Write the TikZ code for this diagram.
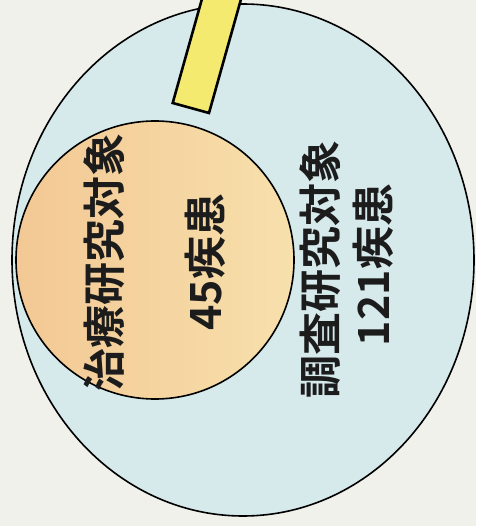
\documentclass[tikz,border=0pt]{standalone}
\usepackage{fontspec}
\newfontfamily\jpfont{Noto Sans CJK JP}[BoldFont={* Bold}]
\definecolor{bgcol}{RGB}{241,241,236}
\definecolor{outerfill}{RGB}{214,233,235}
\definecolor{innerA}{RGB}{243,200,148}
\definecolor{innerB}{RGB}{247,224,172}
\definecolor{barfill}{RGB}{245,234,112}
\definecolor{inkcol}{RGB}{28,28,28}
\begin{document}
\begin{tikzpicture}[x=1pt,y=-1pt,
  lbl/.style={font=\jpfont\bfseries\fontsize{43}{43}\selectfont, text=inkcol, rotate=90, inner sep=0pt},
  lblnum/.style={font=\jpfont\bfseries\fontsize{43}{43}\selectfont, text=inkcol, rotate=90, inner sep=0pt}]
\fill[bgcol] (0,0) rectangle (476,526);
\useasboundingbox (0,0) rectangle (476,526);
% outer ellipse
\draw[line width=1.6pt, fill=outerfill] (243,260) ellipse [x radius=231, y radius=256];
% yellow bar
\draw[line width=2.6pt, fill=barfill, line join=miter]
  (172.7,103) -- (209,113) -- (245,-15) -- (208.7,-25) -- cycle;
% inner circle
\shade[left color=innerA, right color=innerB] (155,260) circle [radius=139];
\draw[line width=1.6pt] (155,260) circle [radius=139];
% labels
\node[lbl] (chiryo) at (104,262) {治療研究対象};
\node[lblnum] (n45) at (205,262) {45疾患};
\node[lbl] (chosa) at (320,269) {調査研究対象};
\node[lblnum] (n121) at (373,265) {121疾患};
\end{tikzpicture}
\end{document}
